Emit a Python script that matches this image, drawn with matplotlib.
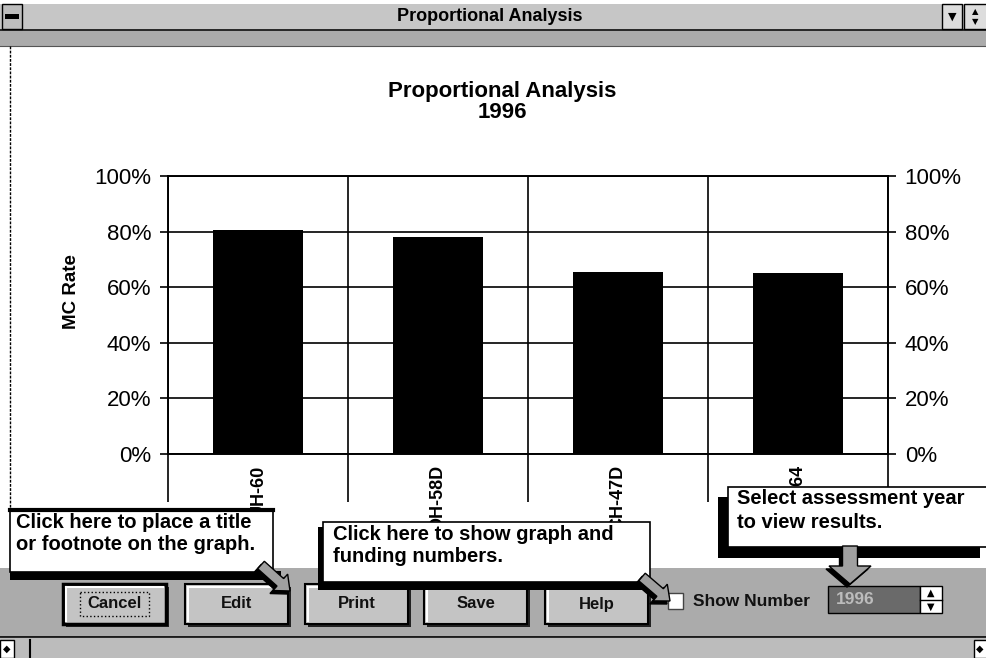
import numpy as np
import matplotlib
matplotlib.use('Agg')
import matplotlib.pyplot as plt
from matplotlib.patches import Rectangle, Polygon

# --- chart data ---
categories = ['UH-60', 'OH-58D', 'CH-47D', 'AH-64']
mc_rate = [0.805, 0.78, 0.655, 0.65]
y_ticks = [0.0, 0.2, 0.4, 0.6, 0.8, 1.0]
y_tick_labels = ['0%', '20%', '40%', '60%', '80%', '100%']
chart_title = 'Proportional Analysis\n1996'
y_label = 'MC Rate'

# --- window chrome text ---
window_title = 'Proportional Analysis'
button_labels = ['Cancel', 'Edit', 'Print', 'Save', 'Help']
button_left = [63, 185, 305, 424, 545]
year_value = '1996'
tip_title = ['Click here to place a title', 'or footnote on the graph.']
tip_numbers = ['Click here to show graph and', 'funding numbers.']
tip_year = ['Select assessment year', 'to view results.']

W, H = 987, 658
FONT = 'Liberation Sans'
GRAY = '#ababab'

plt.rcParams['font.family'] = [FONT, 'DejaVu Sans']

fig = plt.figure(figsize=(W / 100, H / 100), dpi=100)
fig.patch.set_facecolor('white')


def pixel_axes(z):
    a = fig.add_axes([0, 0, 1, 1], zorder=z)
    a.set_xlim(0, W)
    a.set_ylim(H, 0)
    a.axis('off')
    a.patch.set_alpha(0)
    return a


def rect(a, x0, y0, x1, y1, **kw):
    a.add_patch(Rectangle((x0, y0), x1 - x0, y1 - y0, **kw))


def arrow(a, x0, y0, x1, y1, w, hw, hl):
    d = np.array([x1 - x0, y1 - y0], float)
    L = np.hypot(*d)
    d /= L
    n = np.array([-d[1], d[0]])
    p0 = np.array([x0, y0], float)
    neck = p0 + d * (L - hl)
    pts = [p0 + n * w / 2, neck + n * w / 2, neck + n * hw / 2,
           np.array([x1, y1], float), neck - n * hw / 2, neck - n * w / 2,
           p0 - n * w / 2]
    shadow = [p + np.array([-3, 3]) for p in pts]
    a.add_patch(Polygon(shadow, closed=True, facecolor='black', edgecolor='black'))
    a.add_patch(Polygon(pts, closed=True, facecolor='#a0a0a0', edgecolor='black', lw=1))


def tip(a, x, ys, lines):
    for yy, s in zip(ys, lines):
        a.text(x, yy, s, ha='left', va='center', fontsize=14.5, fontweight='bold')


# ---------- background chrome ----------
bg = pixel_axes(0)
# title bar
rect(bg, 0, 4, W, 29, facecolor='#c6c6c6', edgecolor='none')
rect(bg, 2, 4, 22, 29, facecolor='#bdbdbd', edgecolor='black', lw=1)
rect(bg, 5, 14, 19, 18.5, facecolor='black', edgecolor='none')
rect(bg, 942, 4, 962, 29, facecolor='#dddddd', edgecolor='black', lw=1)
rect(bg, 964, 4, W, 29, facecolor='#dddddd', edgecolor='black', lw=1)
bg.text(952, 16.5, '\u25BC', ha='center', va='center', fontsize=8, family='DejaVu Sans')
bg.text(975, 11.5, '\u25B2', ha='center', va='center', fontsize=6, family='DejaVu Sans')
bg.text(975, 21.5, '\u25BC', ha='center', va='center', fontsize=6, family='DejaVu Sans')
bg.text(490, 16.5, window_title, ha='center', va='center', fontsize=13,
        fontweight='bold')
bg.plot([0, W], [30, 30], color='black', lw=1.2)
rect(bg, 0, 31, W, 46, facecolor=GRAY, edgecolor='none')
bg.plot([0, W], [46, 46], color='#555555', lw=0.8)
bg.plot([10, 10], [46, 512], color='black', lw=1, ls=(0, (2, 1)))

# bottom panel
rect(bg, 0, 568, W, 637, facecolor=GRAY, edgecolor='none')
bg.plot([0, W], [637, 637], color='black', lw=1.2)
rect(bg, 0, 638, W, H, facecolor='#bcbcbc', edgecolor='none')
rect(bg, 0, 640, 14, H, facecolor='white', edgecolor='black', lw=1)
bg.text(7, 649, '\u25C6', ha='center', va='center', fontsize=7, family='DejaVu Sans')
bg.plot([30, 30], [640, H], color='black', lw=1.5)
rect(bg, 974, 640, W, H, facecolor='white', edgecolor='black', lw=1)
bg.text(980, 649, '\u25C6', ha='center', va='center', fontsize=7, family='DejaVu Sans')

# buttons
for label, x0 in zip(button_labels, button_left):
    x1 = x0 + 103
    rect(bg, x0 + 3, 587, x1 + 3, 627, facecolor='#222222', edgecolor='none')
    lw = 2.5 if label == 'Cancel' else 1.5
    rect(bg, x0, 584, x1, 624, facecolor='#c4c4c4', edgecolor='black', lw=lw)
    bg.plot([x0 + 3, x1 - 3], [587, 587], color='white', lw=1.5)
    bg.plot([x0 + 3, x0 + 3], [587, 621], color='white', lw=1.5)
    bg.text((x0 + x1) / 2, 604, label, ha='center', va='center', fontsize=12,
            fontweight='bold', color='#111111')
    if label == 'Cancel':
        rect(bg, x0 + 17, 592, x1 - 17, 616, facecolor='none', edgecolor='black',
             lw=1, ls=':')

# checkbox, label, year spinner
rect(bg, 668, 593, 683, 609, facecolor='white', edgecolor='#444444', lw=1)
bg.text(693, 602, 'Show Number', ha='left', va='center', fontsize=12.5,
        fontweight='bold', color='#111111')
rect(bg, 828, 586, 920, 613, facecolor='#6a6a6a', edgecolor='black', lw=1)
bg.text(836, 600, year_value, ha='left', va='center', fontsize=12.5,
        fontweight='bold', color='#bcbcbc')
rect(bg, 920, 586, 942, 613, facecolor='white', edgecolor='black', lw=1)
bg.plot([920, 942], [599.5, 599.5], color='black', lw=1)
bg.text(931, 593, '\u25B2', ha='center', va='center', fontsize=7, family='DejaVu Sans')
bg.text(931, 606.5, '\u25BC', ha='center', va='center', fontsize=7, family='DejaVu Sans')

# ---------- the chart ----------
x = np.arange(len(categories))
ax = fig.add_axes([168 / W, 1 - 454 / H, 720 / W, 278 / H], zorder=2)
ax.patch.set_alpha(0)
ax.bar(x, mc_rate, width=0.5, color='black', zorder=3)
ax.set_xlim(-0.5, len(categories) - 0.5)
ax.set_ylim(0, 1)
ax.set_axisbelow(True)

ax.set_yticks(y_ticks)
ax.set_yticklabels(y_tick_labels, fontsize=16)
ax.tick_params(axis='y', length=6, width=1.2, pad=6)
ax.yaxis.grid(True, color='black', lw=1.2)

ax.set_xticks(x)
ax.set_xticklabels(categories, rotation=90, fontsize=13, fontweight='bold')
ax.tick_params(axis='x', which='major', length=0, pad=8)
ax.set_xticks(np.arange(len(categories) + 1) - 0.5, minor=True)
ax.tick_params(axis='x', which='minor', length=34.5, width=1.2, color='black')
ax.xaxis.grid(True, which='minor', color='black', lw=1.2)
for s in ax.spines.values():
    s.set_linewidth(1.2)

ax2 = ax.twinx()
ax2.set_ylim(0, 1)
ax2.set_yticks(y_ticks)
ax2.set_yticklabels(y_tick_labels, fontsize=16)
ax2.tick_params(axis='y', length=6, width=1.2, pad=6)
for s in ax2.spines.values():
    s.set_linewidth(1.2)

fig.text(502 / W, 1 - 102 / H, chart_title, ha='center', va='center',
         fontsize=16, fontweight='bold', linespacing=1.05)
fig.text(72 / W, 1 - 292 / H, y_label, ha='center', va='center', rotation=90,
         fontsize=13.5, fontweight='bold')

# ---------- callouts on top ----------
top = pixel_axes(5)

# title / footnote tip
rect(top, 10, 571, 281, 580, facecolor='black', edgecolor='none')
rect(top, 10, 510, 273, 572, facecolor='white', edgecolor='black', lw=1.2)
top.plot([10, 273], [510, 510], color='black', lw=3)
tip(top, 16, [522, 545], tip_title)
arrow(top, 261, 565, 290, 591, 10, 22, 13)

# show numbers tip
rect(top, 318, 527, 324, 590, facecolor='black', edgecolor='none')
rect(top, 318, 581, 646, 590, facecolor='black', edgecolor='none')
rect(top, 323, 522, 650, 582, facecolor='white', edgecolor='black', lw=1.2)
tip(top, 333, [534, 557], tip_numbers)
arrow(top, 642, 577, 670, 601, 10, 22, 13)

# year tip
rect(top, 718, 497, 729, 558, facecolor='black', edgecolor='none')
rect(top, 718, 547, 980, 558, facecolor='black', edgecolor='none')
rect(top, 728, 487, 990, 547, facecolor='white', edgecolor='black', lw=1.2)
tip(top, 737, [499, 522], tip_year)
arrow(top, 850, 546, 850, 584, 15, 42, 18)

fig.savefig('out.png', dpi=100)
